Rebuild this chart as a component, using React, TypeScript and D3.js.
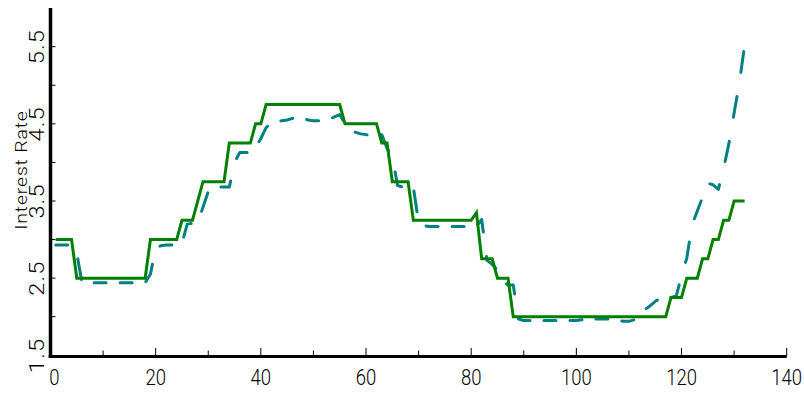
import React from "react";
import * as d3 from "d3";

// months (observation index)
const months: number[] = d3.range(1, 133);

// solid green series
const actualRate: number[] = [
  3.0, 3.0, 3.0, 3.0,
  2.5, 2.5, 2.5, 2.5, 2.5, 2.5, 2.5, 2.5, 2.5, 2.5, 2.5, 2.5, 2.5, 2.5,
  3.0, 3.0, 3.0, 3.0, 3.0, 3.0,
  3.25, 3.25, 3.25,
  3.5,
  3.75, 3.75, 3.75, 3.75, 3.75,
  4.25, 4.25, 4.25, 4.25, 4.25,
  4.5, 4.5,
  4.75, 4.75, 4.75, 4.75, 4.75, 4.75, 4.75, 4.75, 4.75, 4.75, 4.75, 4.75, 4.75, 4.75, 4.75,
  4.5, 4.5, 4.5, 4.5, 4.5, 4.5, 4.5,
  4.25, 4.25,
  3.75, 3.75, 3.75, 3.75,
  3.25, 3.25, 3.25, 3.25, 3.25, 3.25, 3.25, 3.25, 3.25, 3.25, 3.25, 3.25,
  3.35,
  2.75, 2.75, 2.75,
  2.5, 2.5, 2.5,
  2.0, 2.0, 2.0, 2.0, 2.0, 2.0, 2.0, 2.0, 2.0, 2.0,
  2.0, 2.0, 2.0, 2.0, 2.0, 2.0, 2.0, 2.0, 2.0, 2.0,
  2.0, 2.0, 2.0, 2.0, 2.0, 2.0, 2.0, 2.0, 2.0, 2.0,
  2.25, 2.25, 2.25,
  2.5, 2.5, 2.5,
  2.75, 2.75,
  3.0, 3.0,
  3.25, 3.25,
  3.5, 3.5, 3.5,
];

// dashed teal series
const predictedRate: number[] = [
  2.93, 2.93, 2.93, 2.93,
  2.82,
  2.44, 2.44, 2.44, 2.44, 2.44, 2.44, 2.44, 2.44, 2.44, 2.44, 2.44, 2.44, 2.44,
  2.55, 2.89, 2.92, 2.93, 2.93, 2.94, 2.95,
  3.2, 3.21, 3.22,
  3.42, 3.62,
  3.68, 3.68, 3.68, 3.68,
  4.0, 4.13, 4.13, 4.13, 4.19, 4.31, 4.45,
  4.52, 4.53, 4.54, 4.55, 4.57, 4.58, 4.57, 4.55, 4.54, 4.54, 4.54, 4.56, 4.59, 4.62,
  4.5, 4.44, 4.39, 4.37,
  4.36, 4.36, 4.36, 4.36,
  4.18, 4.08,
  3.7, 3.68, 3.68, 3.68,
  3.22, 3.18,
  3.17, 3.17, 3.17, 3.17, 3.17, 3.17, 3.17, 3.17, 3.17, 3.17,
  3.26,
  2.73, 2.68, 2.6, 2.47, 2.41, 2.41,
  1.97,
  1.95, 1.95, 1.95, 1.95, 1.95, 1.95, 1.95, 1.95, 1.95, 1.95, 1.95,
  1.96,
  1.97, 1.97, 1.97, 1.97, 1.97,
  1.96, 1.95, 1.94, 1.94, 1.96,
  2.02, 2.09, 2.14, 2.2, 2.24, 2.25, 2.25, 2.27,
  2.53, 2.76, 3.19, 3.37, 3.55, 3.73, 3.71, 3.65,
  3.92, 4.24, 4.64, 5.03, 5.52,
];

const xTicks: number[] = [0, 10, 20, 30, 40, 50, 60, 70, 80, 90, 100, 110, 120, 130, 140];
const xTickLabels: number[] = [0, 20, 40, 60, 80, 100, 120, 140];
const yTicks: number[] = [2.0, 2.5, 3.0, 3.5, 4.0, 4.5, 5.0, 5.5];
const yTickLabels: string[] = ["1.5", "2.5", "3.5", "4.5", "5.5"];
const yTitle = "Interest Rate";

const W = 804;
const H = 396;
const GREEN = "#008000";
const TEAL = "#008080";
const FONT = "Roboto, 'Liberation Sans', Arial, sans-serif";

// dash pattern measured with vertical distances compressed (anisotropic dashes)
function dashedPath(pts: [number, number][], on: number, off: number, k: number): string {
  const pieces: string[] = [];
  let drawing = true;
  let remain = on;
  let cur: [number, number][] = [pts[0]];
  const fmt = (p: [number, number]) => p[0].toFixed(2) + "," + p[1].toFixed(2);
  for (let i = 1; i < pts.length; i++) {
    const [ax, ay] = pts[i - 1];
    const [bx, by] = pts[i];
    const total = Math.hypot(bx - ax, (by - ay) / k);
    let used = 0;
    while (true) {
      const left = total - used;
      if (left <= remain) {
        remain -= left;
        if (drawing) cur.push([bx, by]);
        break;
      }
      used += remain;
      const t = used / total;
      const p: [number, number] = [ax + (bx - ax) * t, ay + (by - ay) * t];
      if (drawing) {
        cur.push(p);
        pieces.push("M" + cur.map(fmt).join("L"));
        cur = [];
      } else {
        cur = [p];
      }
      drawing = !drawing;
      remain = drawing ? on : off;
    }
  }
  if (drawing && cur.length > 1) pieces.push("M" + cur.map(fmt).join("L"));
  return pieces.join("");
}

export default function App() {
  const x = d3.scaleLinear().domain([0, 140]).range([50.5, 786.7]);
  const y = d3.scaleLinear().domain([1.5, 6]).range([355.3, 8.1]);

  const greenLine = d3
    .line<number>()
    .x((_, i) => x(months[i]))
    .y((d) => y(d))(actualRate) as string;

  const tealPts: [number, number][] = predictedRate.map((d, i) => [x(months[i]), y(d)]);
  const tealPath = dashedPath(tealPts, 12, 14, 1.8);

  const axisY = 356.5;
  const axisX = 50.5;

  return (
    <svg
      width={W}
      height={H}
      style={{ position: "absolute", left: 0, top: 0, display: "block", background: "#fff" }}
    >
      <rect x={0} y={0} width={W} height={H} fill="#fff" />
      {/* lines */}
      <path d={tealPath} fill="none" stroke={TEAL} strokeWidth={3} strokeLinecap="round" strokeLinejoin="round" />
      <path d={greenLine} fill="none" stroke={GREEN} strokeWidth={3} strokeLinejoin="miter" />

      {/* axes */}
      <line x1={axisX} x2={axisX} y1={8} y2={axisY + 1.5} stroke="#000" strokeWidth={3.5} />
      <line x1={axisX - 1.75} x2={x(140)} y1={axisY} y2={axisY} stroke="#000" strokeWidth={3} />

      {xTicks.map((t) => (
        <line
          key={"xt" + t}
          x1={x(t)}
          x2={x(t)}
          y1={axisY}
          y2={t % 20 === 0 ? axisY - 8.5 : axisY - 6}
          stroke="#000"
          strokeWidth={1}
        />
      ))}
      {yTicks.map((t) => (
        <line key={"yt" + t} x1={axisX} x2={axisX + 5} y1={y(t)} y2={y(t)} stroke="#000" strokeWidth={1} />
      ))}

      {xTickLabels.map((t) => (
        <text
          key={"xl" + t}
          transform={`translate(${x(t) + (t === 0 ? 4 : 0)},385) scale(0.86,1)`}
          textAnchor="middle"
          fontFamily={FONT}
          fontWeight={300}
          fontSize={21.5}
          fill="#000"
        >
          {t}
        </text>
      ))}
      {yTickLabels.map((t) => (
        <text
          key={"yl" + t}
          transform={`translate(43.5,${y(+t)}) scale(1,1.15) rotate(-90)`}
          textAnchor="middle"
          fontFamily={FONT}
          fontWeight={300}
          fontSize={20.5}
          letterSpacing={1}
          fill="#000"
        >
          {t}
        </text>
      ))}
      <text
        transform={`translate(26.5,170) scale(1,1.15) rotate(-90)`}
        textAnchor="middle"
        fontFamily={FONT}
        fontWeight={300}
        fontSize={17}
        letterSpacing={0.7}
        fill="#000"
      >
        {yTitle}
      </text>
    </svg>
  );
}
